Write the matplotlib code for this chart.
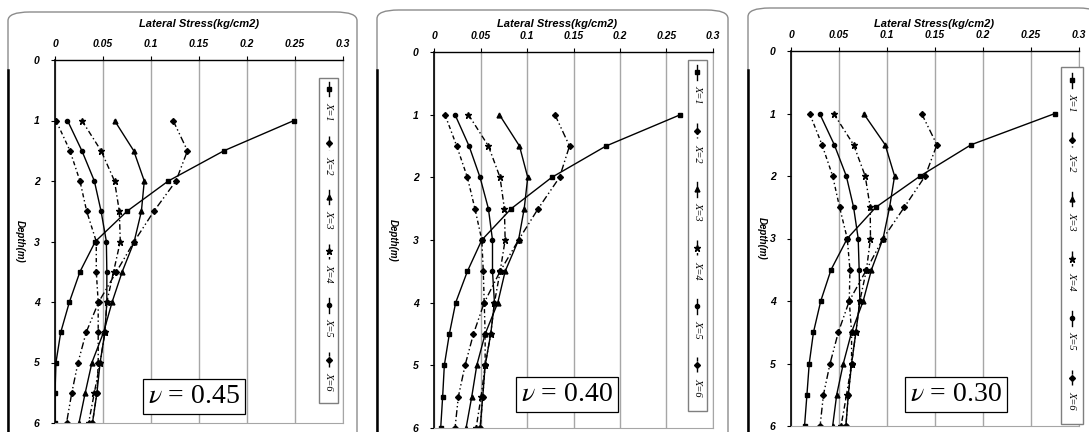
import matplotlib.pyplot as plt
from matplotlib.patches import FancyBboxPatch, Rectangle
from matplotlib.lines import Line2D

plt.rcParams["mathtext.fontset"] = "stix"

# --------- data ---------
depth = [1, 1.5, 2, 2.5, 3, 3.5, 4, 4.5, 5, 5.5, 6]
series_names = ["X=1", "X=2", "X=3", "X=4", "X=5", "X=6"]
nu_labels = ["0.45", "0.40", "0.30"]

stress_045 = [
    [0.249, 0.176, 0.118, 0.075, 0.042, 0.026, 0.015, 0.006, 0.001, 0.0, 0.0],
    [0.123, 0.138, 0.126, 0.103, 0.0825, 0.064, 0.0455, 0.0325, 0.024, 0.0175, 0.012],
    [0.062, 0.082, 0.093, 0.090, 0.0825, 0.070, 0.0595, 0.0506, 0.0385, 0.0315, 0.025],
    [0.028, 0.048, 0.062, 0.067, 0.068, 0.061, 0.054, 0.052, 0.047, 0.041, 0.035],
    [0.013, 0.028, 0.041, 0.048, 0.0535, 0.054, 0.054, 0.052, 0.047, 0.0437, 0.039],
    [0.001, 0.0156, 0.026, 0.033, 0.043, 0.043, 0.045, 0.045, 0.045, 0.0437, 0.039],
]
stress_040 = [
    [0.265, 0.185, 0.1267, 0.083, 0.0514, 0.0359, 0.0233, 0.0165, 0.0111, 0.0093, 0.0072],
    [0.130, 0.1457, 0.135, 0.112, 0.0909, 0.0711, 0.054, 0.0424, 0.0334, 0.0262, 0.0226],
    [0.0703, 0.0919, 0.1008, 0.097, 0.0909, 0.0765, 0.0686, 0.055, 0.046, 0.0406, 0.0345],
    [0.037, 0.0585, 0.071, 0.0757, 0.0765, 0.0711, 0.065, 0.061, 0.055, 0.0506, 0.0453],
    [0.0226, 0.0377, 0.0495, 0.0585, 0.0629, 0.0629, 0.065, 0.061, 0.055, 0.0524, 0.0496],
    [0.0118, 0.0244, 0.0359, 0.044, 0.0514, 0.053, 0.054, 0.055, 0.055, 0.0524, 0.0496],
]
stress_030 = [
    [0.275, 0.1876, 0.1346, 0.0884, 0.0586, 0.0417, 0.031, 0.0234, 0.019, 0.0166, 0.0141],
    [0.136, 0.152, 0.1398, 0.118, 0.0959, 0.0786, 0.0607, 0.0493, 0.0407, 0.0338, 0.0303],
    [0.0756, 0.0981, 0.1079, 0.1027, 0.0959, 0.0838, 0.0752, 0.0631, 0.0545, 0.0476, 0.0434],
    [0.0444, 0.0652, 0.0773, 0.0825, 0.0828, 0.0786, 0.0717, 0.0676, 0.0631, 0.0579, 0.0521],
    [0.0298, 0.0451, 0.0576, 0.0652, 0.070, 0.071, 0.0717, 0.0676, 0.0631, 0.0597, 0.0572],
    [0.0194, 0.0323, 0.0434, 0.0506, 0.0586, 0.0614, 0.0607, 0.0631, 0.0631, 0.0597, 0.0572],
]
panels_data = [stress_045, stress_040, stress_030]

x_ticks = [0, 0.05, 0.1, 0.15, 0.2, 0.25, 0.3]
x_tick_labels = ["0", "0.05", "0.1", "0.15", "0.2", "0.25", "0.3"]
y_ticks = [0, 1, 2, 3, 4, 5, 6]

# --------- styles / layout ---------
W, H = 1089, 432
line_styles = ["-", (0, (5, 2, 1, 2, 1, 2)), "-", (0, (4, 2, 1, 2)), "-", (0, (3, 2, 1, 2))]
markers = ["s", "D", "^", "*", "o", "D"]
msizes = [3.5, 3, 3.5, 4.5, 3, 3]

# axes rect in pixels: left, top, right, bottom
ax_px = [(55, 60, 343, 423), (434, 52, 713, 428), (791, 51, 1079, 426)]
# panel frame: left, top, right
frame_px = [(8, 12, 357), (377, 10, 728), (748, 8, 1100)]
ylabel_px = [20, 393, 762]
# legend box in axes fraction: x0, x1, y0, y1
leg_box = [(0.917, 0.983, 0.055, 0.95), (0.91, 0.978, 0.045, 0.979), (0.9375, 1.014, 0.005, 0.957)]
nu_pos = [(0.483, 0.074), (0.477, 0.088), (0.573, 0.083)]
title_x = [199, 557, 934]

font = dict(family="Liberation Sans", weight="bold", style="italic")

fig = plt.figure(figsize=(W / 100, H / 100), dpi=100)

for p in range(3):
    fl, ft, fr = frame_px[p]
    frame = FancyBboxPatch((fl / W, -0.1), (fr - fl) / W, (H - ft) / H + 0.1,
                           boxstyle="round,pad=0,rounding_size=0.02",
                           transform=fig.transFigure, fc="white", ec="#8c8c8c", lw=1.0,
                           zorder=-10)
    fig.patches.append(frame)
    fig.add_artist(Line2D([fl / W, fl / W], [0, 1 - 70 / H], transform=fig.transFigure,
                          color="black", lw=1.8, zorder=-9))

    l, t, r, b = ax_px[p]
    ax = fig.add_axes([l / W, 1 - b / H, (r - l) / W, (b - t) / H])
    ax.patch.set_alpha(0)
    ax.set_xlim(0, 0.3)
    ax.set_ylim(6, 0)

    for i, vals in enumerate(panels_data[p]):
        ax.plot(vals, depth, color="black", lw=1.0, ls=line_styles[i],
                marker=markers[i], ms=msizes[i], mfc="black", mec="black")

    ax.xaxis.tick_top()
    ax.set_xticks(x_ticks)
    ax.set_xticklabels(x_tick_labels, fontdict=dict(size=7.5, **font))
    ax.set_yticks(y_ticks)
    ax.set_yticklabels([str(v) for v in y_ticks], fontdict=dict(size=7.5, **font))
    ax.tick_params(axis="both", direction="out", length=3, width=0.8, pad=8)
    ax.tick_params(axis="x", pad=5)
    ax.grid(axis="x", color="#a6a6a6", lw=1.0)
    ax.set_axisbelow(True)
    ax.spines["left"].set_linewidth(1.2)
    ax.spines["top"].set_linewidth(1.0)
    ax.spines["right"].set_color("#a6a6a6")
    ax.spines["bottom"].set_color("#a6a6a6")
    ax.set_ylabel("Depth(m)", rotation=270, fontdict=dict(size=7, **font))
    ax.yaxis.label.set_va("center")
    ax.yaxis.set_label_coords(-(l - ylabel_px[p]) / (r - l), 0.5)

    fig.text(title_x[p] / W, 1 - 24 / H, "Lateral Stress(kg/cm2)", ha="center", va="center",
             size=8, **font)

    # vertical legend box
    x0, x1, y0, y1 = leg_box[p]
    ax.add_patch(Rectangle((x0, y0), x1 - x0, y1 - y0, transform=ax.transAxes,
                           fc="white", ec="#7f7f7f", lw=1.0, clip_on=False, zorder=5))
    xc = (x0 + x1) / 2
    step = (y1 - y0) / len(series_names)
    for i, name in enumerate(series_names):
        yc = y1 - (i + 0.5) * step
        ax.add_line(Line2D([xc, xc, xc], [yc + 0.065, yc + 0.045, yc + 0.025],
                           transform=ax.transAxes, color="black", lw=1.0, ls=line_styles[i],
                           marker=markers[i], markevery=[1], ms=msizes[i], clip_on=False,
                           zorder=6))
        ax.text(xc, yc + 0.01, name, transform=ax.transAxes, rotation=270, ha="center",
                va="top", size=7.5, family="Liberation Serif", style="italic", zorder=6)

    nx, ny = nu_pos[p]
    ax.text(nx, ny, "$\\nu$ = " + nu_labels[p], transform=ax.transAxes, ha="center",
            va="center", size=20, family="Liberation Serif", zorder=7,
            bbox=dict(boxstyle="square,pad=0.18", fc="white", ec="black", lw=0.9))

fig.savefig("out.png", dpi=100)
